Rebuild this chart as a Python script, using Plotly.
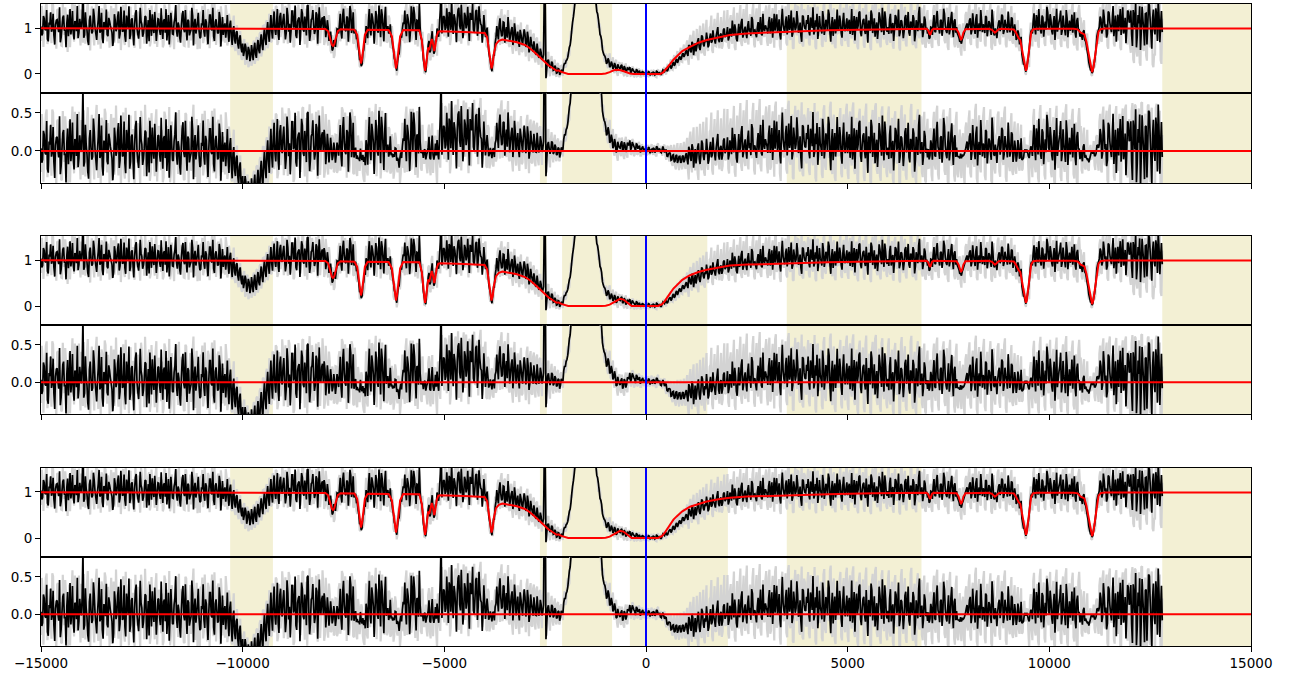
import numpy as np
import plotly.graph_objects as go

# Observed spectrum: two interleaved sets of samples, 40 km/s apart each,
# set B offset by +20 km/s from set A (velocity in km/s)
V_START = -15000
V_STEP = 40
V_OFFSET_B = 20

# Normalised flux of the binned spectrum, in units of 0.01 (one row per 1000 km/s), set A
FLUX_OBS_A = [
    103, 88, 121, 95, 76, 112, 134, 99, 84, 107, 118, 91, 69, 102, 127, 96, 110, 82, 141, 100, 89, 115, 93, 78, 120,
    98, 185, 85, 108, 72, 116, 104, 92, 125, 88, 101, 148, 94, 79, 113, 97, 86, 122, 105, 90, 74, 117, 99, 136, 87,
    111, 94, 83, 127, 100, 76, 118, 92, 106, 139, 87, 98, 115, 81, 103, 124, 95, 71, 109, 130, 89, 104, 97, 119, 85,
    102, 116, 90, 73, 128, 99, 108, 86, 121, 94, 112, 79, 105, 137, 91, 100, 118, 84, 96, 126, 107, 88, 114, 93, 80,
    106, 92, 119, 87, 101, 128, 95, 82, 113, 104, 90, 122, 97, 85, 110, 99, 88, 107, 80, 96, 74, 90, 65, 78, 57,
    66, 49, 58, 41, 52, 37, 48, 55, 43, 61, 52, 71, 64, 82, 76, 95, 86, 104, 93, 118, 97, 109, 88, 124, 101,
    118, 102, 90, 127, 109, 96, 137, 105, 84, 114, 123, 99, 132, 92, 110, 148, 103, 87, 121, 106, 95, 129, 112, 100, 119,
    98, 115, 94, 101, 79, 72, 55, 69, 76, 97, 108, 91, 127, 110, 93, 122, 105, 136, 101, 88, 96, 79, 51, 33, 21,
    52, 68, 97, 116, 95, 132, 107, 99, 125, 90, 113, 141, 102, 118, 94, 104, 90, 81, 61, 34, 16, 27, 44, 83, 98,
    109, 99, 130, 108, 93, 124, 146, 103, 117, 92, 101, 74, 31, 9, 28, 63, 47, 78, 61, 49, 70, 86, 108, 192, 105,
    124, 101, 113, 135, 96, 108, 130, 103, 119, 144, 97, 115, 92, 126, 110, 104, 133, 118, 96, 112, 139, 101, 122, 106, 91,
    104, 90, 76, 38, 14, 24, 41, 79, 88, 107, 96, 85, 112, 91, 79, 99, 84, 102, 77, 93, 81, 70, 96, 74, 83,
    86, 64, 79, 55, 67, 48, 59, 42, 51, 38, 47, 33, 191, -9, 29, 21, 16, 24, 9, 14, 3, 11, 2, 7, 18,
    22, 31, 47, 63, 97, 124, 157, 198, 243, 279, 312, 329, 341, 333, 318, 296, 258, 221, 186, 154, 131, 103, 82, 53, 41,
    33, 25, 29, 17, 22, 14, 19, 9, 16, 12, 20, 8, 13, 6, 11, 15, 5, 9, 4, 10, 3, 7, 2, 6, 1,
    3, -1, 4, 1, -2, 3, 0, 5, 2, -1, 4, 7, 10, 6, 14, 19, 15, 26, 21, 33, 29, 38, 34, 45, 41,
    52, 39, 61, 47, 66, 55, 49, 72, 58, 64, 81, 60, 69, 77, 63, 88, 71, 79, 66, 92, 74, 85, 70, 96, 80,
    86, 73, 99, 81, 94, 108, 77, 90, 85, 112, 79, 97, 88, 104, 92, 83, 118, 95, 87, 101, 91, 124, 84, 98, 106,
    97, 113, 88, 121, 102, 94, 130, 99, 85, 116, 107, 91, 125, 103, 96, 138, 89, 110, 101, 119, 93, 84, 127, 106, 98,
    109, 92, 123, 100, 86, 117, 131, 95, 104, 88, 121, 98, 112, 140, 91, 107, 83, 119, 102, 96, 127, 89, 114, 99, 108,
    93, 118, 101, 85, 126, 110, 97, 133, 90, 105, 120, 87, 99, 116, 94, 129, 103, 81, 112, 98, 123, 91, 107, 136, 95,
    102, 119, 88, 111, 96, 124, 105, 82, 117, 100, 93, 128, 108, 90, 114, 99, 121, 87, 104, 132, 95, 110, 92, 118, 101,
    96, 79, 101, 112, 93, 125, 104, 88, 118, 99, 131, 94, 107, 86, 121, 101, 115, 90, 88, 79, 72, 75, 86, 99, 110,
    104, 121, 95, 112, 87, 130, 101, 93, 116, 108, 89, 124, 97, 111, 85, 119, 84, 92, 99, 117, 103, 126, 94, 108, 90,
    112, 97, 120, 91, 95, 78, 86, 66, 43, 22, 12, 14, 37, 74, 96, 115, 101, 128, 94, 110, 88, 123, 102, 97, 134,
    99, 117, 86, 126, 105, 92, 113, 138, 95, 108, 84, 121, 101, 94, 129, 107, 90, 116, 98, 81, 83, 92, 74, 61, 40,
    17, 8, 6, 27, 58, 91, 103, 119, 95, 124, 108, 87, 133, 99, 116, 82, 127, 104, 93, 141, 110, 88, 122, 97, 135,
    114, 86, 139, 101, 58, 128, 147, 93, 118, 62, 132, 105, 150, 88, 121, 97, 143, 72, 126, 109, 91,
]

# Binned flux, set B (offset +20 km/s), units of 0.01
FLUX_OBS_B = [
    84, 126, 97, 139, 71, 108, 92, 131, 64, 117, 100, 145, 80, 123, 94, 58, 129, 104, 86, 137, 75, 112, 148, 90, 106,
    121, 79, 134, 96, 63, 127, 88, 142, 101, 74, 118, 90, 133, 67, 109, 140, 82, 115, 98, 61, 130, 93, 124, 77, 146,
    92, 138, 70, 113, 147, 85, 121, 62, 131, 99, 77, 144, 108, 89, 126, 66, 117, 139, 83, 101, 135, 72, 120, 95, 143,
    76, 119, 141, 95, 64, 133, 87, 112, 150, 81, 104, 68, 128, 97, 139, 73, 115, 91, 144, 62, 120, 99, 133, 78, 110,
    139, 81, 113, 65, 128, 97, 144, 72, 119, 88, 135, 60, 124, 103, 79, 128, 70, 116, 63, 104, 66, 93, 55, 84, 47,
    39, 66, 31, 59, 28, 63, 30, 68, 35, 74, 45, 86, 52, 99, 63, 113, 70, 128, 77, 136, 85, 141, 74, 133, 96,
    131, 75, 144, 92, 68, 137, 101, 149, 78, 120, 63, 141, 96, 125, 84, 150, 72, 118, 139, 87, 134, 66, 145, 99, 123,
    126, 80, 117, 72, 92, 51, 74, 59, 98, 88, 131, 77, 142, 96, 125, 70, 148, 89, 134, 93, 78, 62, 30, 17, 46,
    71, 104, 78, 141, 84, 122, 66, 137, 95, 149, 80, 128, 71, 146, 99, 88, 108, 78, 52, 29, 7, 41, 70, 79, 112,
    138, 82, 121, 69, 147, 95, 130, 74, 116, 153, 79, 58, 21, 4, 46, 72, 51, 93, 44, 73, 99, 81, 139, 88, 126,
    96, 143, 81, 128, 158, 87, 121, 69, 140, 105, 151, 78, 133, 99, 146, 72, 124, 154, 91, 137, 83, 147, 109, 68, 128,
    80, 101, 49, 29, 6, 41, 67, 104, 75, 121, 82, 113, 68, 102, 124, 71, 96, 63, 110, 68, 92, 59, 86, 63, 97,
    59, 92, 47, 81, 58, 71, 44, 66, 37, 55, 31, 42, 165, 12, 31, 13, 27, 8, 18, 2, 12, -2, 9, 5, 24,
    29, 36, 58, 77, 113, 139, 183, 221, 262, 294, 321, 332, 345, 326, 311, 278, 243, 199, 172, 136, 119, 86, 73, 46, 39,
    22, 34, 15, 27, 11, 24, 7, 21, 13, 18, 6, 17, 3, 14, 9, 2, 12, 6, -1, 8, 5, -2, 4, 0, 3,
    1, 5, -3, 2, 4, -2, 6, 1, 3, -1, 9, 5, 12, 8, 17, 12, 23, 18, 30, 24, 36, 31, 43, 37, 48,
    44, 63, 50, 70, 41, 67, 59, 78, 52, 84, 65, 73, 90, 58, 79, 68, 95, 74, 83, 102, 69, 88, 77, 99, 84,
    102, 79, 93, 116, 84, 97, 71, 109, 92, 120, 86, 103, 78, 115, 99, 124, 89, 96, 80, 113, 105, 87, 131, 93, 101,
    88, 124, 102, 79, 131, 110, 92, 119, 75, 142, 97, 115, 86, 128, 104, 81, 123, 95, 137, 90, 112, 70, 125, 99, 117,
    128, 84, 114, 145, 92, 103, 76, 126, 99, 137, 85, 118, 94, 131, 70, 124, 106, 88, 140, 97, 115, 79, 133, 93, 121,
    110, 87, 141, 98, 73, 124, 105, 136, 82, 117, 95, 129, 68, 112, 138, 89, 121, 100, 76, 134, 107, 144, 85, 119, 92,
    87, 131, 104, 72, 128, 99, 140, 90, 115, 78, 123, 96, 135, 83, 110, 128, 71, 117, 93, 146, 102, 80, 125, 96, 88,
    77, 102, 85, 128, 91, 137, 99, 116, 83, 142, 106, 89, 124, 97, 135, 80, 119, 102, 84, 70, 66, 80, 92, 105, 97,
    117, 86, 132, 98, 121, 79, 110, 139, 91, 104, 126, 82, 115, 95, 140, 88, 99, 78, 112, 93, 129, 87, 118, 101, 136,
    91, 123, 83, 108, 74, 95, 66, 81, 33, 20, 5, 26, 52, 91, 88, 132, 86, 118, 141, 95, 127, 81, 114, 146, 103,
    130, 93, 111, 74, 142, 103, 120, 85, 127, 97, 139, 80, 116, 105, 90, 134, 79, 122, 96, 91, 74, 95, 71, 49, 25,
    9, 2, 19, 41, 82, 96, 125, 88, 140, 101, 79, 136, 112, 91, 148, 104, 70, 129, 117, 85, 145, 98, 67, 138, 112,
    138, 61, 125, 154, 83, 110, 52, 146, 97, 131, 64, 152, 118, 55, 140, 86, 128, 160, 69, 137,
]

# Unbinned (noisier) flux, set A, units of 0.01
FLUX_RAW_A = [
    72, 131, 96, 148, 65, 119, 87, 154, 103, 70, 139, 92, 116, 61, 127, 145, 83, 108, 58, 134, 99, 151, 77, 122, 89,
    140, 68, 113, 92, 157, 74, 129, 101, 62, 146, 85, 118, 55, 137, 96, 149, 71, 104, 126, 60, 143, 88, 112, 67, 131,
    86, 150, 63, 119, 97, 141, 75, 128, 57, 110, 136, 79, 152, 93, 66, 124, 101, 143, 70, 115, 88, 139, 59, 132, 104,
    127, 64, 145, 91, 112, 58, 138, 80, 120, 149, 69, 101, 133, 84, 61, 147, 95, 117, 73, 142, 86, 125, 54, 109, 136,
    148, 77, 121, 63, 135, 96, 152, 70, 114, 87, 140, 59, 126, 103, 68, 134, 71, 120, 62, 109, 58, 97, 49, 88, 40,
    35, 76, 24, 68, 19, 62, 27, 73, 31, 80, 42, 91, 47, 105, 58, 117, 66, 124, 71, 138, 82, 146, 69, 127, 93,
    141, 79, 126, 66, 150, 98, 117, 62, 145, 88, 133, 71, 155, 94, 120, 57, 139, 103, 148, 74, 129, 85, 152, 67, 118,
    134, 71, 125, 62, 108, 45, 78, 41, 102, 68, 137, 80, 151, 76, 128, 143, 69, 119, 147, 66, 121, 52, 70, 15, 42,
    29, 95, 66, 137, 79, 148, 92, 141, 63, 130, 154, 76, 124, 69, 146, 72, 121, 58, 83, 14, 29, 8, 68, 55, 129,
    77, 142, 68, 131, 151, 80, 127, 64, 148, 95, 124, 49, 45, 2, 13, 84, 33, 98, 37, 72, 51, 117, 79, 143, 126,
    82, 149, 103, 155, 76, 136, 94, 153, 118, 71, 147, 99, 158, 84, 133, 62, 145, 125, 150, 87, 140, 73, 151, 96, 137,
    136, 63, 102, 19, 31, 4, 66, 51, 117, 73, 131, 66, 124, 70, 118, 62, 110, 57, 109, 60, 98, 53, 101, 48, 95,
    56, 101, 47, 92, 38, 84, 33, 77, 29, 68, 30, 55, 160, 2, 44, 7, 31, 5, 26, -2, 21, -4, 17, 0, 27,
    14, 40, 38, 72, 88, 135, 149, 207, 236, 288, 305, 338, 333, 341, 310, 303, 249, 228, 178, 162, 122, 110, 74, 61, 33,
    44, 18, 37, 10, 30, 6, 27, 2, 22, 5, 25, 0, 19, -2, 17, 8, -3, 14, -5, 11, -4, 9, -6, 6, -3,
    -4, 6, -5, 5, -3, 7, -6, 8, -2, 5, -4, 12, 3, 17, 8, 27, 10, 34, 14, 41, 22, 48, 27, 55, 33,
    63, 31, 75, 40, 80, 45, 71, 38, 86, 50, 90, 44, 95, 57, 83, 104, 52, 98, 61, 110, 66, 101, 55, 113, 72,
    106, 61, 118, 72, 123, 58, 110, 84, 131, 67, 119, 74, 136, 70, 115, 89, 139, 64, 124, 78, 142, 69, 117, 83, 137,
    72, 140, 66, 127, 85, 149, 74, 118, 61, 138, 90, 126, 68, 151, 79, 122, 57, 134, 93, 146, 70, 128, 63, 141, 81,
    135, 68, 146, 80, 121, 59, 143, 86, 129, 64, 148, 75, 118, 92, 153, 70, 137, 61, 124, 89, 142, 66, 131, 77, 150,
    67, 139, 84, 152, 71, 126, 60, 144, 96, 130, 63, 147, 78, 121, 58, 140, 87, 155, 73, 128, 64, 149, 82, 120, 69,
    145, 74, 130, 61, 141, 88, 124, 57, 148, 79, 136, 66, 119, 93, 152, 70, 127, 62, 144, 84, 131, 71, 139, 60, 126,
    71, 112, 62, 137, 80, 149, 68, 126, 92, 145, 73, 131, 59, 142, 85, 120, 66, 138, 64, 104, 51, 97, 60, 128, 82,
    140, 69, 128, 83, 151, 62, 133, 77, 119, 145, 66, 127, 88, 139, 58, 124, 67, 112, 143, 71, 130, 86, 148, 64, 121,
    79, 134, 71, 122, 66, 107, 58, 91, 29, 33, 3, 19, 21, 93, 72, 141, 77, 126, 63, 148, 85, 129, 67, 138, 90,
    142, 70, 131, 59, 146, 83, 120, 65, 137, 78, 151, 62, 128, 91, 144, 68, 123, 57, 139, 117, 64, 109, 61, 79, 26,
    31, -2, 12, 14, 79, 68, 132, 73, 147, 86, 140, 61, 152, 92, 125, 66, 149, 79, 136, 58, 143, 95, 155, 70, 129,
    59, 151, 32, 160, 48, 143, 25, 162, 57, 138, 40, 158, 66, 149, 21, 44, 156, 83, 141, 30, 120,
]

# Unbinned flux, set B (offset +20 km/s), units of 0.01
FLUX_RAW_B = [
    148, 59, 117, 154, 80, 133, 67, 150, 96, 55, 141, 110, 62, 152, 85, 127, 48, 139, 99, 158, 70, 126, 89, 151, 62,
    95, 153, 66, 140, 112, 51, 147, 82, 130, 160, 64, 121, 143, 73, 155, 90, 136, 57, 148, 104, 68, 159, 86, 125, 52,
    139, 72, 156, 93, 58, 146, 115, 69, 152, 84, 125, 55, 140, 98, 160, 79, 133, 60, 149, 117, 66, 154, 91, 128, 74,
    58, 151, 89, 132, 157, 70, 124, 54, 145, 96, 153, 81, 119, 62, 149, 107, 57, 138, 88, 160, 65, 141, 99, 55, 128,
    67, 152, 94, 141, 56, 127, 80, 155, 63, 136, 98, 147, 71, 118, 150, 62, 131, 85, 59, 127, 50, 106, 41, 93, 31,
    71, 20, 63, 15, 59, 18, 66, 22, 78, 29, 87, 38, 104, 51, 112, 56, 131, 69, 140, 75, 148, 63, 139, 80, 156,
    67, 148, 90, 155, 72, 139, 58, 130, 102, 151, 77, 126, 156, 65, 142, 96, 160, 71, 135, 83, 150, 62, 127, 94, 157,
    63, 146, 72, 128, 51, 84, 35, 96, 58, 129, 71, 155, 93, 148, 62, 139, 80, 152, 68, 141, 59, 93, 17, 39, 22,
    38, 131, 64, 153, 91, 146, 70, 158, 88, 127, 60, 149, 102, 135, 68, 127, 59, 104, 20, 49, -3, 62, 36, 105, 73,
    67, 154, 99, 142, 71, 151, 88, 126, 60, 147, 59, 92, 3, 28, 18, 88, 30, 109, 48, 83, 40, 118, 71, 156, 92,
    152, 78, 139, 63, 157, 101, 148, 72, 160, 95, 66, 141, 117, 155, 84, 149, 71, 130, 158, 90, 146, 104, 160, 73, 118,
    140, 58, 86, 9, 34, 17, 90, 58, 127, 63, 141, 71, 129, 66, 139, 59, 118, 44, 124, 50, 107, 41, 112, 50, 95,
    38, 107, 28, 96, 35, 88, 25, 79, 20, 68, 14, 62, 144, -6, 48, -5, 39, -3, 31, -6, 24, -7, 18, -4, 33,
    17, 48, 41, 94, 102, 160, 169, 243, 255, 302, 308, 351, 330, 357, 300, 293, 228, 212, 156, 148, 100, 104, 58, 60, 26,
    41, 13, 45, 9, 36, 2, 31, -4, 26, 1, 19, -5, 23, -6, 15, -4, 16, -7, 10, -5, 12, -6, 9, -5, 7,
    -6, 8, -4, 9, -5, 6, -7, 10, -3, 8, 1, 15, -1, 22, 6, 32, 9, 41, 12, 50, 18, 57, 26, 64, 30,
    73, 20, 85, 33, 94, 39, 98, 30, 105, 45, 110, 40, 118, 50, 101, 127, 46, 120, 60, 133, 56, 124, 62, 138, 71,
    139, 55, 128, 66, 145, 52, 133, 70, 150, 61, 141, 68, 155, 64, 130, 79, 152, 58, 143, 72, 158, 63, 137, 81, 149,
    61, 151, 70, 143, 57, 156, 79, 139, 52, 149, 83, 147, 62, 158, 74, 140, 55, 152, 84, 145, 66, 157, 60, 136, 77,
    150, 62, 141, 75, 157, 54, 146, 83, 138, 59, 155, 70, 131, 86, 160, 65, 143, 56, 137, 90, 152, 61, 144, 72, 158,
    59, 148, 77, 160, 66, 140, 54, 152, 88, 143, 57, 159, 71, 135, 52, 151, 80, 160, 67, 142, 58, 156, 75, 133, 63,
    156, 68, 141, 55, 150, 81, 137, 51, 158, 72, 146, 60, 132, 87, 160, 63, 139, 56, 153, 78, 144, 64, 150, 57, 139,
    66, 118, 57, 150, 74, 158, 61, 141, 86, 153, 67, 144, 52, 155, 79, 133, 58, 149, 57, 108, 40, 110, 50, 135, 76,
    151, 63, 140, 77, 160, 56, 145, 70, 131, 156, 60, 139, 82, 152, 53, 137, 61, 118, 149, 64, 143, 80, 157, 58, 132,
    72, 148, 66, 133, 58, 117, 50, 99, 20, 38, -2, 34, 15, 112, 60, 153, 70, 139, 57, 159, 79, 141, 61, 150, 84,
    155, 64, 143, 53, 158, 76, 132, 59, 149, 71, 160, 56, 140, 85, 154, 62, 135, 51, 150, 123, 58, 117, 52, 88, 14,
    23, -4, 32, 22, 96, 66, 145, 70, 157, 80, 152, 55, 160, 88, 137, 60, 158, 73, 148, 52, 155, 89, 160, 64, 141,
    46, 162, 24, 158, 38, 155, 18, 163, 50, 148, 29, 160, 58, 156, 15, 40, 161, 75, 152, 22,
]

# Fitted model: knots (velocity, normalised flux), shared blue side with absorption lines
BLUE_V = [-15000, -12000, -9000, -8100, -7950, -7880, -7830, -7790, -7760, -7730, -7690, -7640, -7570,
          -7300, -7230, -7160, -7120, -7090, -7067, -7040, -7010, -6970, -6900,
          -6450, -6380, -6300, -6250, -6220, -6199, -6175, -6145, -6095, -6020,
          -5680, -5620, -5560, -5520, -5495, -5480, -5460, -5430, -5400, -5375, -5340, -5310, -5280,
          -5250, -5225, -5190, -5150, -5100, -4500, -4050, -4000, -3940, -3890, -3860, -3830, -3800,
          -3770, -3720, -3650, -3560]
BLUE_F = [0.995, 0.992, 0.988, 0.985, 0.98, 0.93, 0.78, 0.64, 0.61, 0.64, 0.78, 0.93, 0.975,
          0.972, 0.965, 0.85, 0.6, 0.35, 0.23, 0.33, 0.6, 0.85, 0.962,
          0.96, 0.955, 0.82, 0.5, 0.25, 0.12, 0.22, 0.5, 0.82, 0.955,
          0.955, 0.95, 0.75, 0.4, 0.15, 0.07, 0.15, 0.42, 0.58, 0.52, 0.62, 0.76, 0.66,
          0.5, 0.6, 0.82, 0.92, 0.93, 0.915, 0.9, 0.89, 0.8, 0.5, 0.25, 0.12, 0.22,
          0.45, 0.65, 0.72, 0.75]

# Broad trough blueward of the emission peak (shared)
TROUGH_V = [-3400, -3200, -3000, -2880, -2750, -2650, -2550, -2420, -2300, -2240, -2215, -2190, -2160,
            -2100, -2050, -1980, -1930, -1100]
TROUGH_F = [0.73, 0.69, 0.63, 0.56, 0.46, 0.38, 0.30, 0.19, 0.12, 0.085, 0.07, 0.075, 0.075,
            0.045, 0.03, 0.01, 0.0, 0.0]

# Central part, different for each of the three fits
CORE_V_1 = [-1000, -900, -800, -727, -650, -550, -450, -397, -300, 350, 420, 513, 600, 680, 760, 900,
            1090, 1300, 1505, 1800, 2080, 2500, 3000, 3570]
CORE_F_1 = [0.01, 0.04, 0.08, 0.09, 0.085, 0.06, 0.025, 0.01, 0.0, 0.0, 0.03, 0.12, 0.22, 0.31, 0.38, 0.5,
            0.59, 0.68, 0.74, 0.8, 0.85, 0.88, 0.905, 0.92]
CORE_V_2 = [-1000, -900, -800, -720, -645, -560, -470, -400, -355, 300, 400, 460, 513, 600, 680, 760, 900,
            1090, 1300, 1505, 1800, 2080, 2500, 3000, 3570]
CORE_F_2 = [0.005, 0.03, 0.08, 0.13, 0.155, 0.14, 0.08, 0.025, 0.0, 0.0, 0.04, 0.1, 0.16, 0.28, 0.38, 0.45, 0.57,
            0.67, 0.74, 0.79, 0.84, 0.88, 0.9, 0.915, 0.925]
CORE_F_3 = [0.005, 0.03, 0.08, 0.13, 0.155, 0.14, 0.08, 0.025, 0.0, 0.0, 0.045, 0.11, 0.18, 0.3, 0.4, 0.47, 0.58,
            0.68, 0.745, 0.795, 0.84, 0.875, 0.9, 0.915, 0.925]

# Red side with absorption lines (shared)
RED_V = [4500, 5630, 6500, 6950, 6990, 7020, 7040, 7060, 7090, 7130, 7650, 7700, 7750, 7785, 7810, 7835,
         7870, 7920, 8500, 8580, 8630, 8650, 8680, 8740, 8800, 9050, 9120, 9170, 9210, 9240, 9280, 9330,
         9370, 9400, 9420, 9440, 9470, 9510, 9550, 9600, 9700, 10600, 10700, 10780, 10830, 10870, 10920,
         10980, 11020, 11060, 11090, 11130, 11180, 11220, 11280, 11400, 15000]
RED_F = [0.95, 0.97, 0.98, 0.985, 0.96, 0.88, 0.85, 0.88, 0.96, 0.985, 0.985, 0.975, 0.9, 0.78, 0.74, 0.78,
         0.9, 0.975, 0.985, 0.96, 0.91, 0.9, 0.92, 0.97, 0.985, 0.985, 0.97, 0.9, 0.82, 0.78, 0.74, 0.5,
         0.25, 0.1, 0.07, 0.12, 0.35, 0.7, 0.9, 0.975, 0.985, 0.985, 0.97, 0.9, 0.87, 0.86, 0.7,
         0.4, 0.15, 0.04, 0.12, 0.4, 0.75, 0.92, 0.98, 0.99, 0.99]

# Velocity ranges excluded from each fit (km/s)
MASK_COMMON = [(-10310, -9250), (-2630, -2460), (-2080, -840), (3490, 6830), (12800, 15000)]
MASK_EXTRA = [[], [(-400, 1520)], [(-400, 2030)]]

X_TICKS = [-15000, -10000, -5000, 0, 5000, 10000, 15000]
X_TICK_TEXT = ["\u221215000", "\u221210000", "\u22125000", "0", "5000", "10000", "15000"]

# Merge the two interleaved sample sets onto one velocity axis
vel_a = V_START + V_STEP * np.arange(len(FLUX_OBS_A))
vel_b = V_START + V_OFFSET_B + V_STEP * np.arange(len(FLUX_OBS_B))
velocity = np.concatenate([vel_a, vel_b])
order = np.argsort(velocity, kind="stable")
velocity = velocity[order]
flux = (np.concatenate([FLUX_OBS_A, FLUX_OBS_B]) / 100.0)[order]
flux_raw = (np.concatenate([FLUX_RAW_A, FLUX_RAW_B]) / 100.0)[order]

models = []
for core_v, core_f in [(CORE_V_1, CORE_F_1), (CORE_V_2, CORE_F_2), (CORE_V_2, CORE_F_3)]:
    mv = np.array(BLUE_V + TROUGH_V + core_v + RED_V, dtype=float)
    mf = np.array(BLUE_F + TROUGH_F + core_f + RED_F, dtype=float)
    models.append((mv, mf))

# Panel geometry (fractions of the plotting area, bottom = 0)
FLUX_DOMAINS = [(0.8614, 1.0), (0.5, 0.6386), (0.1386, 0.2773)]
RESID_DOMAINS = [(0.7212, 0.8614), (0.3614, 0.5), (0.0, 0.1386)]
FLUX_RANGE = [-0.413, 1.522]
RESID_RANGE = [-0.421, 0.763]

GRAY = "#d3d3d3"
SHADE = "#f3f0d4"

fig = go.Figure()
layout = dict(
    width=1294, height=680,
    margin=dict(l=41, r=43, t=4, b=34),
    paper_bgcolor="white", plot_bgcolor="white",
    showlegend=False,
    font=dict(family="DejaVu Sans", size=13.5, color="black"),
)
shapes = []

axis_common = dict(showline=True, linecolor="black", linewidth=1.1, mirror=True,
                   showgrid=False, zeroline=False)

for p in range(3):
    mv, mf = models[p]
    model_on_grid = np.interp(velocity, mv, mf)
    resid = flux - model_on_grid
    resid_raw = flux_raw - model_on_grid

    fa = 2 * p + 1
    ra = 2 * p + 2
    fx, fy = ("x" if fa == 1 else f"x{fa}"), ("y" if fa == 1 else f"y{fa}")
    rx, ry = f"x{ra}", f"y{ra}"

    # spectrum panel
    fig.add_trace(go.Scatter(x=velocity, y=flux_raw, mode="lines", xaxis=fx, yaxis=fy,
                             line=dict(color=GRAY, width=2.2, simplify=False), hoverinfo="skip"))
    fig.add_trace(go.Scatter(x=velocity, y=flux, mode="lines", xaxis=fx, yaxis=fy,
                             line=dict(color="black", width=1.7, simplify=False), hoverinfo="skip"))
    fig.add_trace(go.Scatter(x=mv, y=mf, mode="lines", xaxis=fx, yaxis=fy,
                             line=dict(color="red", width=2), hoverinfo="skip"))
    # residual panel
    fig.add_trace(go.Scatter(x=velocity, y=resid_raw, mode="lines", xaxis=rx, yaxis=ry,
                             line=dict(color=GRAY, width=2.2, simplify=False), hoverinfo="skip"))
    fig.add_trace(go.Scatter(x=velocity, y=resid, mode="lines", xaxis=rx, yaxis=ry,
                             line=dict(color="black", width=1.7, simplify=False), hoverinfo="skip"))

    fkey = "xaxis" if fa == 1 else f"xaxis{fa}"
    fykey = "yaxis" if fa == 1 else f"yaxis{fa}"
    layout[fkey] = dict(axis_common, domain=[0, 1], range=[-15000, 15000], anchor=fy,
                        showticklabels=False, ticks="", **({} if fa == 1 else {"matches": "x"}))
    layout[fykey] = dict(axis_common, domain=list(FLUX_DOMAINS[p]), range=FLUX_RANGE, anchor=fx,
                         tickvals=[0, 1], ticktext=["0", "1"], ticks="outside", ticklen=5,
                         tickwidth=1.1, tickcolor="black")
    layout[f"xaxis{ra}"] = dict(axis_common, domain=[0, 1], range=[-15000, 15000], anchor=ry,
                                matches="x", tickvals=X_TICKS, ticktext=X_TICK_TEXT,
                                ticks="outside", ticklen=5, tickwidth=1.1, tickcolor="black",
                                showticklabels=(p == 2))
    layout[f"yaxis{ra}"] = dict(axis_common, domain=list(RESID_DOMAINS[p]), range=RESID_RANGE,
                                anchor=rx, tickvals=[0.0, 0.5], ticktext=["0.0", "0.5"],
                                ticks="outside", ticklen=5, tickwidth=1.1, tickcolor="black")

    # excluded ranges, behind the data
    for xr, yr in [(fx, fy), (rx, ry)]:
        for lo, hi in MASK_COMMON + MASK_EXTRA[p]:
            shapes.append(dict(type="rect", xref=xr, x0=lo, x1=hi, yref=f"{yr} domain", y0=0, y1=1,
                               fillcolor=SHADE, line=dict(width=0), layer="below"))
    # zero line of the residuals
    shapes.append(dict(type="line", xref=f"{rx} domain", x0=0, x1=1, yref=ry, y0=0, y1=0,
                       line=dict(color="red", width=2), layer="above"))
    # systemic velocity
    for xr, yr in [(fx, fy), (rx, ry)]:
        shapes.append(dict(type="line", xref=xr, x0=0, x1=0, yref=f"{yr} domain", y0=0, y1=1,
                           line=dict(color="blue", width=2), layer="above"))

layout["shapes"] = shapes
fig.update_layout(**layout)
fig.write_html("out.html")
